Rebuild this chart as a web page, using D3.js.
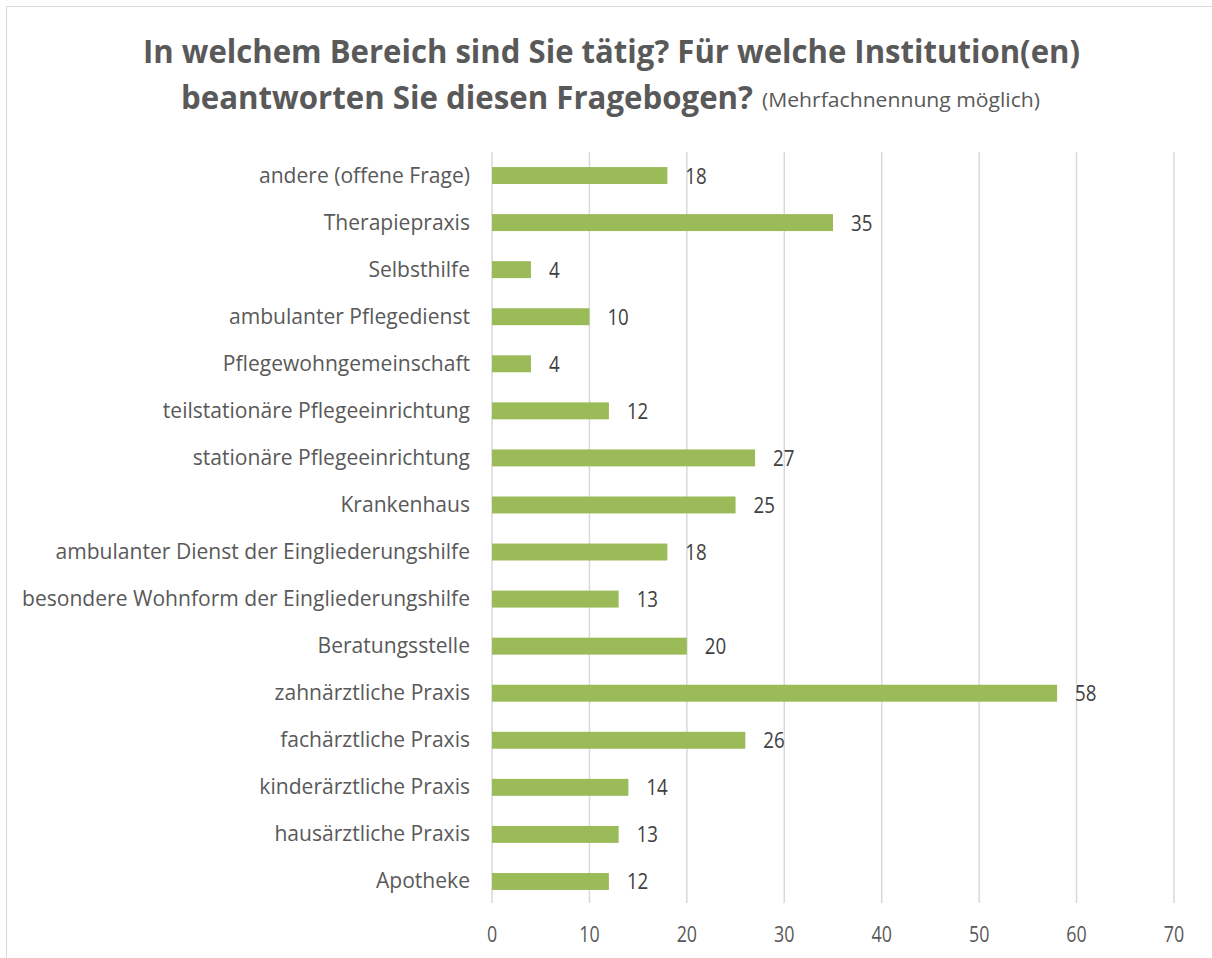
<!DOCTYPE html>
<html><head><meta charset="utf-8">
<script src="https://cdn.jsdelivr.net/npm/d3@7"></script>
<style>body{margin:0;background:#fff;} svg{display:block;}</style>
</head><body>
<svg id="c" width="1212" height="958"></svg>
<script>
const categories = ["andere (offene Frage)","Therapiepraxis","Selbsthilfe","ambulanter Pflegedienst","Pflegewohngemeinschaft","teilstationäre Pflegeeinrichtung","stationäre Pflegeeinrichtung","Krankenhaus","ambulanter Dienst der Eingliederungshilfe","besondere Wohnform der Eingliederungshilfe","Beratungsstelle","zahnärztliche Praxis","fachärztliche Praxis","kinderärztliche Praxis","hausärztliche Praxis","Apotheke"];
const values = [18,35,4,10,4,12,27,25,18,13,20,58,26,14,13,12];
const xTicks = [0,10,20,30,40,50,60,70];
const titleLine1 = "In welchem Bereich sind Sie tätig? Für welche Institution(en)";
const titleLine2 = "beantworten Sie diesen Fragebogen?";
const subtitle = "(Mehrfachnennung möglich)";

const svg = d3.select("#c");
const FONT = "'Open Sans', 'Noto Sans', sans-serif";
svg.append("rect").attr("x",6.5).attr("y",6.5).attr("width",1230).attr("height",970)
  .attr("fill","#fff").attr("stroke","#d9d9d9").attr("stroke-width",1);

const x = d3.scaleLinear().domain([0,70]).range([492,1174]);
const y = d3.scaleBand().domain(categories).range([152,905]).paddingInner(0.64).paddingOuter(0.32);

// gridlines
svg.append("g").selectAll("line").data(xTicks).join("line")
  .attr("x1",d=>x(d)).attr("x2",d=>x(d)).attr("y1",152).attr("y2",903)
  .attr("stroke","#d9d9d9").attr("stroke-width",1.5);

// bars
svg.append("g").selectAll("rect").data(values).join("rect")
  .attr("x",x(0)).attr("y",(d,i)=>y(categories[i]))
  .attr("width",d=>x(d)-x(0)).attr("height",y.bandwidth())
  .attr("fill","#9BBB59");

function squeeze(sel,f){sel.each(function(){const w=this.getComputedTextLength(); d3.select(this).attr("textLength",w*f).attr("lengthAdjust","spacingAndGlyphs");});}

// value labels
const vl = svg.append("g").selectAll("text").data(values).join("text")
  .attr("x",d=>x(d)+18).attr("y",(d,i)=>y(categories[i])+y.bandwidth()/2+8)
  .attr("font-family",FONT).attr("font-size",22).attr("fill","#404040")
  .text(d=>d);
squeeze(vl,0.85);

// category labels
const cl = svg.append("g").selectAll("text").data(categories).join("text")
  .attr("x",470).attr("y",d=>y(d)+y.bandwidth()/2+7)
  .attr("text-anchor","end").attr("font-family",FONT).attr("font-size",21).attr("fill","#595959")
  .text(d=>d);
let maxW = 0; cl.each(function(){maxW=Math.max(maxW,this.getComputedTextLength());});
squeeze(cl,448/maxW);

// x axis labels
const xl = svg.append("g").selectAll("text").data(xTicks).join("text")
  .attr("x",d=>x(d)).attr("y",942).attr("text-anchor","middle")
  .attr("font-family",FONT).attr("font-size",21).attr("fill","#595959").text(d=>d);
squeeze(xl,0.85);

// title
function fit(sel,target){sel.attr("textLength",target).attr("lengthAdjust","spacingAndGlyphs");}
const t1 = svg.append("text").attr("x",143).attr("y",63).attr("font-family",FONT).attr("font-weight","bold")
  .attr("font-size",32).attr("fill","#595959").text(titleLine1);
fit(t1,937);
const t2 = svg.append("text").attr("x",181).attr("y",109).attr("font-family",FONT).attr("font-weight","bold")
  .attr("font-size",32).attr("fill","#595959").text(titleLine2);
fit(t2,572);
const t3 = svg.append("text").attr("x",762).attr("y",107).attr("font-family",FONT)
  .attr("font-size",19.5).attr("fill","#595959").text(subtitle);
fit(t3,278);
</script>
</body></html>
